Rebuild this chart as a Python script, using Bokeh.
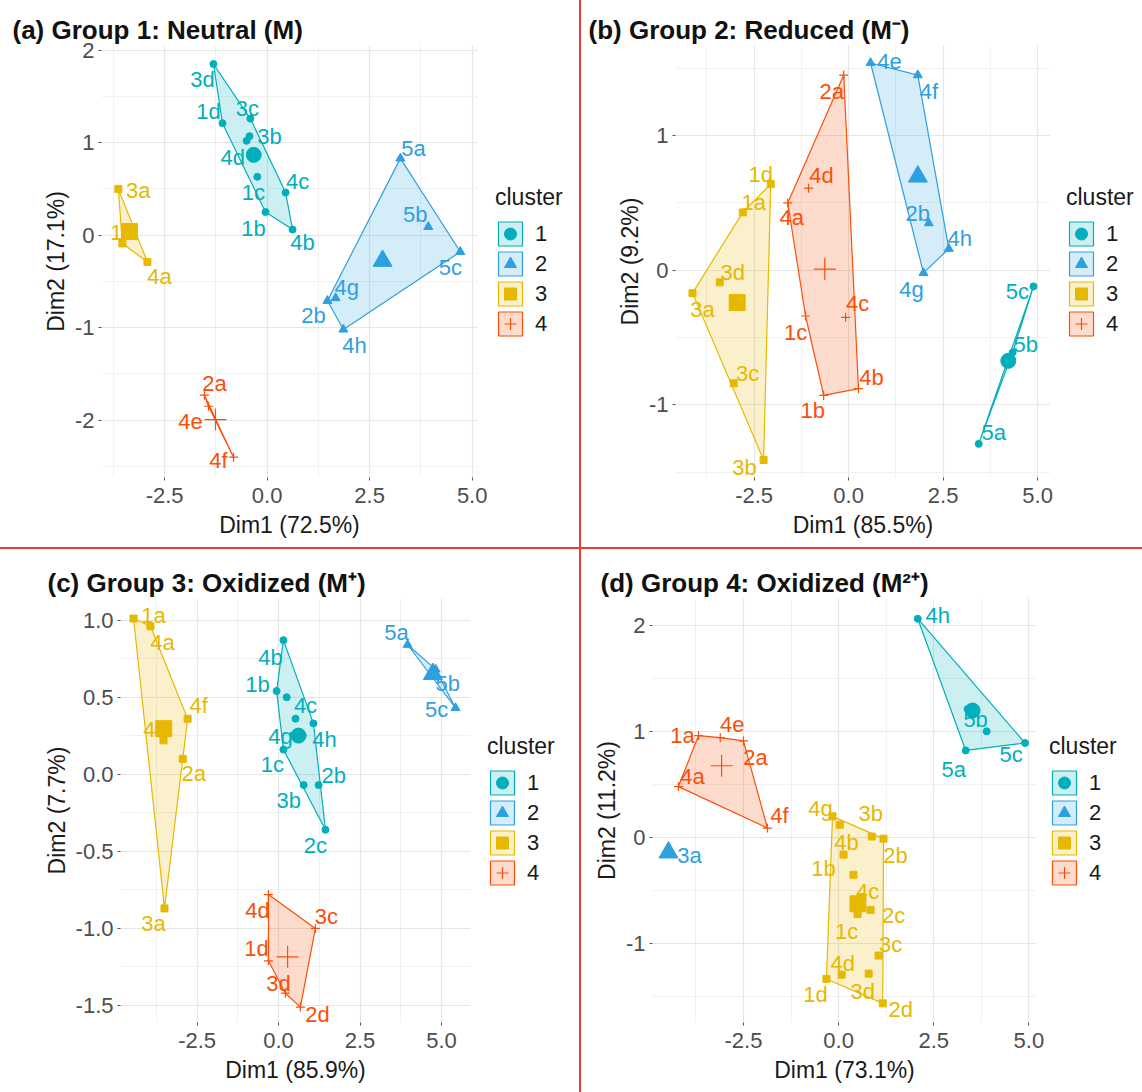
from bokeh.plotting import figure
from bokeh.models import (ColumnDataSource, Legend, LegendItem, SingleIntervalTicker, Range1d,
                          PrintfTickFormatter, Div)
from bokeh.layouts import row, column
from bokeh.core.properties import value
from bokeh.embed import file_html
from bokeh.resources import INLINE

COLORS = ["#00AFBB", "#2E9FDF", "#E7B800", "#FC4E07"]
CLUSTER_NAMES = ["1", "2", "3", "4"]

# ---------------- Panel (a) Group 1: Neutral (M) ----------------
A_LABELS = ["3d", "1d", "3c", "3b", "4d", "1c", "4c", "1b", "4b",
            "5a", "5b", "5c", "4g", "2b", "4h",
            "3a", "1a", "4a",
            "2a", "4e", "4f"]
A_CLUSTER = [1, 1, 1, 1, 1, 1, 1, 1, 1,
             2, 2, 2, 2, 2, 2,
             3, 3, 3,
             4, 4, 4]
A_X = [-1.31, -1.09, -0.41, -0.43, -0.50, -0.24, 0.45, -0.04, 0.62,
       3.25, 3.93, 4.71, 1.67, 1.47, 1.86,
       -3.63, -3.53, -2.92,
       -1.53, -1.43, -0.82]
A_Y = [1.85, 1.21, 1.26, 1.07, 1.02, 0.63, 0.46, 0.25, 0.06,
       0.83, 0.09, -0.18, -0.68, -0.71, -1.02,
       0.50, -0.09, -0.29,
       -1.73, -1.85, -2.40]
A_LABEL_DX = [-11, -14, -3, 20, -14, -4, 12, -12, 10,
              13, -13, -10, 11, -14, 11,
              20, 0, 12,
              10, -18, -15]
A_LABEL_DY = [15, -12, -10, 0, 17, 16, -11, 16, 13,
              -10, -12, 16, -11, 15, 16,
              2, -11, 15,
              -12, 15, 3]

# ---------------- Panel (b) Group 2: Reduced (M-) ----------------
B_LABELS = ["5c", "5b", "5a",
            "4e", "4f", "2b", "4h", "4g",
            "1d", "1a", "3d", "3a", "3c", "3b",
            "2a", "4d", "4a", "1c", "4c", "1b", "4b"]
B_CLUSTER = [1, 1, 1,
             2, 2, 2, 2, 2,
             3, 3, 3, 3, 3, 3,
             4, 4, 4, 4, 4, 4, 4]
B_X = [4.89, 4.34, 3.44,
       0.58, 1.83, 2.12, 2.65, 1.98,
       -2.06, -2.80, -3.41, -4.13, -3.04, -2.25,
       -0.13, -1.06, -1.61, -1.14, -0.08, -0.66, 0.26]
B_Y = [-0.12, -0.61, -1.29,
       1.54, 1.45, 0.35, 0.16, -0.02,
       0.64, 0.43, -0.09, -0.17, -0.84, -1.41,
       1.45, 0.61, 0.50, -0.34, -0.35, -0.93, -0.88]
B_LABEL_DX = [-16, 13, 15,
              19, 11, -11, 11, -12,
              -10, 11, 13, 10, 14, -19,
              -12, 13, 4, -10, 12, -11, 13]
B_LABEL_DY = [5, -8, -11,
              -1, 16, -10, -10, 17,
              -10, -10, -10, 16, -10, 7,
              16, -13, 15, 16, -14, 15, -11]

# ---------------- Panel (c) Group 3: Oxidized (M+) ----------------
C_LABELS = ["4b", "1b", "", "4c", "4h", "4g", "", "1c", "3b", "2b", "2c",
            "5a", "5b", "5c",
            "1a", "4a", "4f", "4e", "", "2a", "3a",
            "4d", "3c", "1d", "3d", "2d"]
C_CLUSTER = [1, 1, 1, 1, 1, 1, 1, 1, 1, 1, 1,
             2, 2, 2,
             3, 3, 3, 3, 3, 3, 3,
             4, 4, 4, 4, 4]
C_X = [0.15, -0.06, 0.25, 0.52, 1.07, 0.46, 0.74, 0.15, 0.77, 1.23, 1.44,
       3.96, 4.82, 5.43,
       -4.45, -3.93, -2.79, -3.53, -3.53, -2.94, -3.50,
       -0.31, 1.13, -0.31, 0.21, 0.67]
C_Y = [0.87, 0.54, 0.50, 0.36, 0.33, 0.25, 0.25, 0.16, -0.07, -0.07, -0.36,
       0.84, 0.68, 0.43,
       1.01, 0.96, 0.36, 0.29, 0.22, 0.10, -0.87,
       -0.78, -1.00, -1.21, -1.42, -1.51]
C_LABEL_DX = [-13, -19, 0, 10, 11, -13, 0, -11, -15, 15, -10,
              -11, 12, -19,
              20, 12, 11, -8, 0, 11, -11,
              -11, 11, -12, -7, 17]
C_LABEL_DY = [17, -7, 0, -13, 16, 1, 0, 15, 15, -10, 16,
              -12, 14, 2,
              -3, 16, -13, 0, 0, 15, 15,
              16, -12, -12, -10, 7]

# ---------------- Panel (d) Group 4: Oxidized (M2+) ----------------
D_LABELS = ["4h", "5b", "", "5a", "5c",
            "3a",
            "4g", "", "3b", "2b", "4b", "1b", "4c", "2c", "1c", "3c", "4d", "3d", "1d", "2d",
            "1a", "4e", "2a", "4a", "4f"]
D_CLUSTER = [1, 1, 1, 1, 1,
             2,
             3, 3, 3, 3, 3, 3, 3, 3, 3, 3, 3, 3, 3, 3,
             4, 4, 4, 4, 4]
D_X = [2.08, 3.39, 3.89, 3.34, 4.90,
       -4.47,
       -0.16, 0.03, 0.87, 1.18, 0.13, 0.39, 0.58, 0.84, 0.50, 1.05, 0.08, 0.79, -0.32, 1.16,
       -3.68, -3.11, -2.50, -4.21, -1.87]
D_Y = [2.06, 1.21, 1.00, 0.82, 0.89,
       -0.14,
       0.20, 0.12, 0.01, -0.01, -0.16, -0.35, -0.56, -0.68, -0.72, -1.11, -1.29, -1.28, -1.33, -1.56,
       0.96, 0.94, 0.91, 0.48, 0.09]
D_LABEL_DX = [20, 8, 0, -12, -14,
              21,
              -12, 0, -1, 12, 3, -30, 7, 23, -11, 12, 1, -6, -11, 18,
              -16, 12, 12, 14, 12]
D_LABEL_DY = [-3, 10, 0, 19, 11,
              3,
              -8, 0, -23, 17, -12, -6, -6, 6, 17, -11, -11, 18, 16, 6,
              0, -13, 17, -10, -13]

RED = "#ea3b35"
FONT = "Liberation Sans"

SMALL = {1: ("circle", 7), 2: ("triangle", 9), 3: ("square", 7), 4: ("cross", 9)}
BIG = {1: ("circle", 15), 2: ("triangle", 19), 3: ("square", 16), 4: ("cross", 22)}


def convex_hull(pts):
    pts = sorted(set(pts))
    if len(pts) <= 2:
        return pts

    def cross(o, a, b):
        return (a[0] - o[0]) * (b[1] - o[1]) - (a[1] - o[1]) * (b[0] - o[0])

    lower = []
    for q in pts:
        while len(lower) >= 2 and cross(lower[-2], lower[-1], q) <= 0:
            lower.pop()
        lower.append(q)
    upper = []
    for q in reversed(pts):
        while len(upper) >= 2 and cross(upper[-2], upper[-1], q) <= 0:
            upper.pop()
        upper.append(q)
    return lower[:-1] + upper[:-1]


def add_marker(fig, x, y, k, size, **kw):
    col = COLORS[k - 1]
    m = SMALL[k][0]
    if m == "cross":
        return fig.scatter(x, y, marker=m, size=size, line_color=col, line_width=1.2, **kw)
    return fig.scatter(x, y, marker=m, size=size, fill_color=col, line_color=col, **kw)


def make_panel(title, xlab, ylab, labels, clusters, xs, ys, ldx, ldy,
               xr, yr, yint, yfmt, width, height, borders, title_offset, legend_x, legend_dy):
    left, frame_w, right, top, bottom = borders
    main_w = left + frame_w + right
    p = figure(output_backend="svg", toolbar_location=None,
               x_range=Range1d(*xr), y_range=Range1d(*yr),
               width=main_w, height=height,
               min_border_left=left, min_border_right=right,
               min_border_top=top, min_border_bottom=bottom)
    p.outline_line_color = None

    p.xaxis.ticker = SingleIntervalTicker(interval=2.5, num_minor_ticks=2)
    p.yaxis.ticker = SingleIntervalTicker(interval=yint, num_minor_ticks=2)
    p.xaxis.formatter = PrintfTickFormatter(format="%.1f")
    p.yaxis.formatter = PrintfTickFormatter(format=yfmt)
    for g in (p.xgrid, p.ygrid):
        g.grid_line_color = "#e6e6e6"
        g.grid_line_width = 1.2
        g.minor_grid_line_color = "#f1f1f1"
        g.minor_grid_line_width = 1
    for ax in (p.xaxis, p.yaxis):
        ax.axis_line_color = None
        ax.minor_tick_line_color = None
        ax.major_tick_in = 0
        ax.major_tick_out = 3
        ax.major_tick_line_color = "#555555"
        ax.major_label_text_font = FONT
        ax.major_label_text_font_size = "22px"
        ax.major_label_text_line_height = 1.0
        ax.major_label_text_color = "#4d4d4d"
        ax.axis_label_text_font = FONT
        ax.axis_label_text_font_size = "23px"
        ax.axis_label_text_line_height = 1.0
        ax.axis_label_text_font_style = "normal"
        ax.axis_label_text_color = "#1a1a1a"
    p.xaxis.major_label_standoff = 6
    p.xaxis.axis_label_standoff = 6
    p.yaxis.major_label_standoff = 3
    p.yaxis.axis_label_standoff = 3
    p.xaxis.axis_label = xlab
    p.yaxis.axis_label = ylab

    p.title.text = title
    p.title.text_font = FONT
    p.title.text_font_size = "26px"
    p.title.text_line_height = 1.0
    p.title.text_font_style = "bold"
    p.title.text_color = "#111111"
    p.title.align = "left"
    p.title.offset = title_offset
    p.title.standoff = 2

    for k in (1, 2, 3, 4):
        idx = [i for i, c in enumerate(clusters) if c == k]
        col = COLORS[k - 1]
        cx = [xs[i] for i in idx]
        cy = [ys[i] for i in idx]
        hull = convex_hull(list(zip(cx, cy)))
        p.patch([h[0] for h in hull], [h[1] for h in hull],
                fill_color=col, fill_alpha=0.2, line_color=col, line_width=1.2)
        src = ColumnDataSource(dict(x=cx, y=cy,
                                    lab=[labels[i] for i in idx],
                                    dx=[ldx[i] for i in idx],
                                    dy=[ldy[i] for i in idx]))
        add_marker(p, "x", "y", k, SMALL[k][1], source=src)
        p.text("x", "y", text="lab", source=src, x_offset="dx", y_offset="dy",
               text_color=col, text_font=value(FONT), text_font_size="22px",
               text_align="center", text_baseline="middle")
    for k in (1, 2, 3, 4):
        idx = [i for i, c in enumerate(clusters) if c == k]
        mx = sum(xs[i] for i in idx) / len(idx)
        my = sum(ys[i] for i in idx) / len(idx)
        add_marker(p, [mx], [my], k, BIG[k][1])

    # legend lives in its own narrow figure placed to the right of the panel;
    # its frame is sized so that its vertical centre matches the wanted legend centre
    leg_w = width - main_w
    centre = top + (height - top - bottom) / 2 + legend_dy
    if 2 * centre >= height:
        leg_top, leg_bottom = int(round(2 * centre - height)), 0
    else:
        leg_top, leg_bottom = 0, int(round(height - 2 * centre))
    lf = figure(output_backend="svg", toolbar_location=None, width=leg_w, height=height,
                x_range=Range1d(0, 1), y_range=Range1d(0, 1),
                x_axis_location=None, y_axis_location=None,
                min_border_left=0, min_border_right=0, min_border_top=leg_top,
                min_border_bottom=leg_bottom)
    lf.outline_line_color = None
    lf.xgrid.visible = False
    lf.ygrid.visible = False
    items = []
    for k in (1, 2, 3, 4):
        col = COLORS[k - 1]
        # key glyphs sit outside the (0, 1) view, so only the legend shows them
        pr = lf.patch([-9, -8, -8], [-9, -9, -8], fill_color=col, fill_alpha=0.2,
                      line_color=col, line_width=1.2)
        sr = add_marker(lf, [-9], [-9], k, 8)
        items.append(LegendItem(label=CLUSTER_NAMES[k - 1], renderers=[pr, sr]))
    legend = Legend(items=items, title="cluster", location="center_left")
    legend.title_text_font = FONT
    legend.title_text_font_size = "23px"
    legend.title_text_font_style = "normal"
    legend.title_text_color = "#1a1a1a"
    legend.title_standoff = 8
    legend.label_text_font = FONT
    legend.label_text_font_size = "22px"
    legend.label_text_color = "#1a1a1a"
    legend.glyph_width = 30
    legend.glyph_height = 30
    legend.label_height = 25
    legend.spacing = -5
    legend.label_standoff = 10
    legend.padding = 0
    legend.margin = legend_x
    legend.border_line_color = None
    legend.background_fill_alpha = 0
    lf.add_layout(legend)
    return p, lf


pa, la = make_panel("(a) Group 1: Neutral (M)", "Dim1 (72.5%)", "Dim2 (17.1%)",
                    A_LABELS, A_CLUSTER, A_X, A_Y, A_LABEL_DX, A_LABEL_DY,
                    (-4.04, 5.13), (-2.62, 2.05), 1, "%d", 579, 547,
                    (101, 376, 12, 43, 67), -89, 6, 9)
pb, lb = make_panel("(b) Group 2: Reduced (M\u207b)", "Dim1 (85.5%)", "Dim2 (9.2%)",
                    B_LABELS, B_CLUSTER, B_X, B_Y, B_LABEL_DX, B_LABEL_DY,
                    (-4.58, 5.34), (-1.54, 1.67), 1, "%d", 561, 547,
                    (94, 375, 12, 45, 70), -87, 4, 8)
pc, lc = make_panel("(c) Group 3: Oxidized (M\u207a)", "Dim1 (85.9%)", "Dim2 (7.7%)",
                    C_LABELS, C_CLUSTER, C_X, C_Y, C_LABEL_DX, C_LABEL_DY,
                    (-4.85, 5.89), (-1.61, 1.14), 0.5, "%.1f", 579, 543,
                    (120, 350, 12, 49, 62), -73, 5, 14)
pd, ld = make_panel("(d) Group 4: Oxidized (M\u00b2\u207a)", "Dim1 (73.1%)", "Dim2 (11.2%)",
                    D_LABELS, D_CLUSTER, D_X, D_Y, D_LABEL_DX, D_LABEL_DY,
                    (-4.89, 5.20), (-1.74, 2.25), 1, "%d", 561, 543,
                    (71, 384, 12, 38, 70), -52, 1, 0)

vsep_top = Div(text="", width=2, height=547, margin=0, styles={"background-color": RED})
vsep_bot = Div(text="", width=2, height=543, margin=0, styles={"background-color": RED})
hsep = Div(text="", width=1142, height=2, margin=0, styles={"background-color": RED})

top = row(pa, la, vsep_top, pb, lb)
bottom = row(pc, lc, vsep_bot, pd, ld)
layout = column(top, hsep, bottom)

open("out.html", "w").write(file_html(layout, INLINE))
